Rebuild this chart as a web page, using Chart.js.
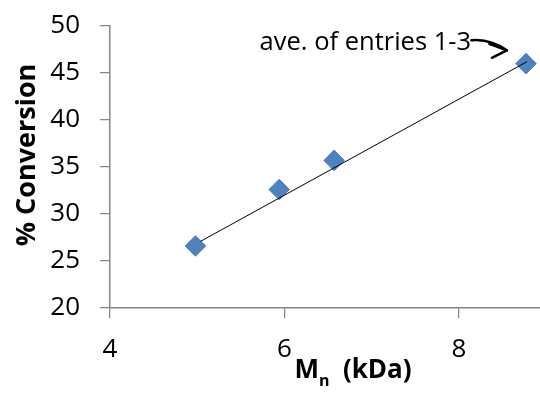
<!DOCTYPE html>
<html lang="en">
<head>
<meta charset="UTF-8">
<title>% Conversion vs Mn</title>
<script src="https://cdn.jsdelivr.net/npm/chart.js@4.4.1/dist/chart.umd.min.js"></script>
<style>
  html, body { margin: 0; padding: 0; background: #fff; overflow: hidden; }
  canvas { display: block; }
</style>
</head>
<body>
<canvas id="myChart" width="540" height="393"></canvas>
<script>
// Datos: Mn (kDa) frente a % de conversión
const mnValues = [4.98, 5.94, 6.57, 8.77];
const conversionValues = [26.6, 32.6, 35.7, 46.0];

// Extremos de la recta de ajuste
const trendMn = [5.04, 8.78];
const trendConversion = [27.1, 46.2];

// Marcas de los ejes
const xTicks = [4, 6, 8];
const yTicks = [20, 25, 30, 35, 40, 45, 50];

const noteText = 'ave. of entries 1-3';
const axisGray = '#868686';
const markerBlue = '#4F81BD';
const fontFamily = '"Open Sans", "Noto Sans", sans-serif';

// Títulos de los ejes y la nota con flecha
const extraText = {
    id: 'extraText',
    afterDraw(chart) {
        const ctx = chart.ctx;
        const area = chart.chartArea;

        // Título del eje Y (girado)
        ctx.save();
        ctx.fillStyle = '#000';
        ctx.font = 'bold 27px ' + fontFamily;
        ctx.translate(35, (area.top + area.bottom) / 2 - 12);
        ctx.rotate(-Math.PI / 2);
        ctx.textAlign = 'center';
        ctx.textBaseline = 'alphabetic';
        ctx.fillText('% Conversion', 0, 0);
        ctx.restore();

        // Título del eje X con subíndice
        ctx.save();
        ctx.fillStyle = '#000';
        ctx.textBaseline = 'alphabetic';
        ctx.textAlign = 'left';
        const big = 'bold 26px ' + fontFamily;
        const small = 'bold 16px ' + fontFamily;
        ctx.font = big;
        const wM = ctx.measureText('M').width;
        const wRest = ctx.measureText('  (kDa)').width;
        ctx.font = small;
        const wSub = ctx.measureText('n').width;
        const total = wM + wSub + wRest;
        let tx = (area.left + area.right) / 2 + 28 - total / 2;
        const base = 378;
        ctx.font = big;
        ctx.fillText('M', tx, base);
        tx += wM;
        ctx.font = small;
        ctx.fillText('n', tx, base + 8);
        tx += wSub;
        ctx.font = big;
        ctx.fillText('  (kDa)', tx, base);
        ctx.restore();

        // Nota sobre el último punto
        const pt = chart.getDatasetMeta(1).data[mnValues.length - 1];
        ctx.save();
        ctx.fillStyle = '#000';
        ctx.font = '25.5px ' + fontFamily;
        ctx.textAlign = 'right';
        ctx.textBaseline = 'alphabetic';
        ctx.fillText(noteText, pt.x - 55, pt.y - 14);

        ctx.strokeStyle = '#000';
        ctx.lineWidth = 2.5;
        ctx.lineCap = 'round';
        ctx.lineJoin = 'round';
        ctx.beginPath();
        ctx.moveTo(pt.x - 54.7, pt.y - 23.3);
        ctx.quadraticCurveTo(pt.x - 36.7, pt.y - 25.3, pt.x - 19.2, pt.y - 13.3);
        ctx.stroke();
        ctx.beginPath();
        ctx.moveTo(pt.x - 36.7, pt.y - 19.8);
        ctx.lineTo(pt.x - 19.2, pt.y - 13.3);
        ctx.lineTo(pt.x - 34.2, pt.y - 5.8);
        ctx.stroke();
        ctx.restore();
    }
};

const tickFont = { family: fontFamily, size: 26 };

const config = {
    type: 'scatter',
    data: {
        datasets: [
            {
                // Recta de ajuste (encima de los marcadores)
                data: trendMn.map((x, i) => ({ x: x, y: trendConversion[i] })),
                showLine: true,
                borderColor: '#000',
                borderWidth: 1,
                pointRadius: 0,
                fill: false
            },
            {
                data: mnValues.map((x, i) => ({ x: x, y: conversionValues[i] })),
                pointStyle: 'rectRot',
                pointRadius: 10.3,
                backgroundColor: markerBlue,
                borderColor: markerBlue,
                borderWidth: 1
            }
        ]
    },
    options: {
        responsive: false,
        animation: false,
        layout: {
            autoPadding: false,
            padding: { top: 26, right: 0, left: 0, bottom: 0 }
        },
        plugins: {
            legend: { display: false },
            tooltip: { enabled: false }
        },
        scales: {
            x: {
                type: 'linear',
                position: 'bottom',
                min: 4,
                max: 8.93,
                afterBuildTicks: scale => { scale.ticks = xTicks.map(v => ({ value: v })); },
                afterFit: scale => {
                    scale.height = 85;
                    scale.paddingLeft = 0;
                    scale.paddingRight = 0;
                },
                grid: { drawOnChartArea: false, drawTicks: true, tickLength: 10, color: axisGray, lineWidth: 1.25 },
                border: { display: true, color: axisGray, width: 1.5 },
                ticks: { font: tickFont, color: '#000', padding: 16, maxRotation: 0, autoSkip: false }
            },
            y: {
                type: 'linear',
                min: 20,
                max: 50,
                afterBuildTicks: scale => { scale.ticks = yTicks.map(v => ({ value: v })); },
                afterFit: scale => {
                    scale.width = 110;
                    scale.paddingTop = 0;
                    scale.paddingBottom = 0;
                },
                grid: { drawOnChartArea: false, drawTicks: true, tickLength: 10, color: axisGray, lineWidth: 1.25 },
                border: { display: true, color: axisGray, width: 1.5 },
                ticks: { font: tickFont, color: '#000', padding: 20, autoSkip: false }
            }
        }
    },
    plugins: [extraText]
};

const myChart = new Chart(document.getElementById('myChart'), config);
</script>
</body>
</html>
